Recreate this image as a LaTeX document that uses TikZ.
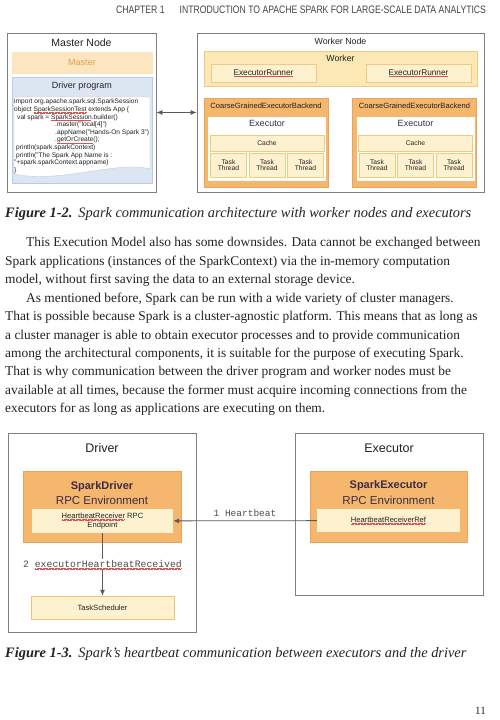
\documentclass[tikz,border=0pt]{standalone}
\usepackage{fontspec}
\setmainfont{Liberation Serif}
\setsansfont{Liberation Sans}
\setmonofont{Liberation Mono}
\newfontfamily\headfont[FakeStretch=0.8]{Liberation Sans}
\usepackage{xcolor}
\usepackage{tikz}
\usetikzlibrary{arrows.meta,positioning,calc}

\definecolor{frame}{HTML}{808080}
\definecolor{orfill}{HTML}{F5B66E}
\definecolor{ordraw}{HTML}{EBA457}
\definecolor{palefill}{HTML}{FEF1D0}
\definecolor{paledraw}{HTML}{EDCB80}
\definecolor{workfill}{HTML}{FCE8B4}
\definecolor{masterfill}{HTML}{FCE6C0}
\definecolor{mastertxt}{HTML}{E89E48}
\definecolor{blfill}{HTML}{DCE6F2}
\definecolor{bldraw}{HTML}{B9CDE5}
\definecolor{ink}{HTML}{222222}
\definecolor{deep}{HTML}{3D2B45}
\definecolor{squigred}{HTML}{E05050}

% red spell-check squiggle under a word
\newsavebox\sqbox
\newcommand\squig[1]{\sbox\sqbox{#1}\rlap{\hbox to \wd\sqbox{\leaders\hbox{\textcolor{squigred}{\rule[-1.6pt]{0.6pt}{0.3pt}\rule[-1.1pt]{0.6pt}{0.3pt}}}\hfill}}\usebox\sqbox}
\newcommand\fs[1]{\fontsize{#1}{#1}\selectfont}

\begin{document}
\begin{tikzpicture}[x=1pt,y=-1pt,
  outer/.style={rectangle,draw=frame,line width=0.8pt,fill=white,inner sep=0pt},
  orbox/.style={rectangle,draw=ordraw,fill=orfill,inner sep=0pt},
  palebox/.style={rectangle,draw=paledraw,fill=palefill,inner sep=0pt,align=center,text=ink},
  title/.style={font=\sffamily\fs{10.5},text=ink,inner sep=0pt},
  small/.style={font=\sffamily\fs{6.7},text=ink},
  bodyline/.style={anchor=base west,inner sep=0pt,font=\fs{13.4},text=ink},
  caption/.style={anchor=base west,inner sep=0pt,font=\fs{14.4},text=ink},
  arr/.style={-{Latex[length=6pt,width=5pt]},draw=black!65,line width=0.8pt}
]
\useasboundingbox (0,0) rectangle (499,720);

\node[anchor=base west,inner sep=0pt,font=\headfont\fs{10.8},text=ink!85] (chap) at (116,13)
  {CHAPTER 1\hspace{15pt}INTRODUCTION TO APACHE SPARK FOR LARGE-SCALE DATA ANALYTICS};

% Figure 1-2: master node
\node[outer,minimum width=149pt,minimum height=159pt] (mnode) at (81.5,112.5) {};
\node[title] (mtitle) at (81.5,43) {Master Node};
\node[rectangle,draw=masterfill!80!orange!60,fill=masterfill,minimum width=140pt,minimum height=21pt,
  font=\sffamily\fs{9},text=mastertxt] (mbar) at (82,62.5) {Master};
\node[rectangle,draw=bldraw,fill=blfill,minimum width=140pt,minimum height=106pt] (dprog) at (82,130) {};
\node[font=\sffamily\fs{9},text=ink] (dtitle) at (82,86.5) {Driver program};
\filldraw[draw=bldraw,fill=white] (14,97) -- (150,97) -- (150,169)
  .. controls (118,160) and (60,184) .. (14,174) -- cycle;
\node[anchor=north west,inner sep=0pt,align=left,font=\sffamily\fs{6.6},text=ink,
  execute at begin node=\setlength{\baselineskip}{7.6pt}] (code) at (14,99)
  {import org.apache.spark.sql.SparkSession\\
   object \squig{SparkSessionTest} extends App \{\\
   \hspace*{3pt}val spark = \squig{SparkSession}.builder()\\
   \hspace*{41pt}.master("local[4]")\\
   \hspace*{41pt}.appName("Hands-On Spark 3")\\
   \hspace*{41pt}.\squig{getOrCreate}();\\
   \hspace*{2pt}println(spark.sparkContext)\\
   \hspace*{2pt}println("The Spark App Name is :\\
   "+spark.sparkContext.appname)\\
   \}};

% Figure 1-2: worker node
\node[outer,minimum width=287pt,minimum height=159pt] (wnode) at (340.5,112.5) {};
\node[title,font=\sffamily\fs{8.8}] (wtitle) at (340.5,41) {Worker Node};
\node[rectangle,draw=paledraw,fill=workfill,minimum width=273pt,minimum height=35pt] (wbar) at (340.5,68.5) {};
\node[title,font=\sffamily\fs{8.8}] (wlabel) at (340.5,58) {Worker};
\node[palebox,minimum width=105pt,minimum height=18pt,font=\sffamily\fs{8.3}] (erun1) at (263.5,73) {\squig{ExecutorRunner}};
\node[palebox,minimum width=105pt,minimum height=18pt,font=\sffamily\fs{8.3}] (erun2) at (418.5,73) {\squig{ExecutorRunner}};

\node[orbox,minimum width=124pt,minimum height=89pt] (cgeb1) at (266,142.5) {};
\node[small,font=\sffamily\fs{7.6}] (cglabel1) at (266,106) {CoarseGrainedExecutorBackend};
\node[rectangle,fill=white,minimum width=118pt,minimum height=64pt,inner sep=0pt] (exec1) at (267,148.5) {};
\node[font=\sffamily\fs{9},text=deep] (exlabel1) at (267,123) {Executor};
\node[palebox,minimum width=114pt,minimum height=16pt,small] (cache1) at (267,143) {Cache};
\node[palebox,minimum width=36pt,minimum height=24pt,small] (task11) at (228.5,165) {Task\\Thread};
\node[palebox,minimum width=36pt,minimum height=24pt,small] (task12) at (267,165) {Task\\Thread};
\node[palebox,minimum width=36pt,minimum height=24pt,small] (task13) at (305.5,165) {Task\\Thread};

\node[orbox,minimum width=124pt,minimum height=89pt] (cgeb2) at (414.5,142.5) {};
\node[small,font=\sffamily\fs{7.6}] (cglabel2) at (414.5,106) {CoarseGrainedExecutorBackend};
\node[rectangle,fill=white,minimum width=118pt,minimum height=64pt,inner sep=0pt] (exec2) at (415.5,148.5) {};
\node[font=\sffamily\fs{9},text=deep] (exlabel2) at (415.5,123) {Executor};
\node[palebox,minimum width=114pt,minimum height=16pt,small] (cache2) at (415.5,143) {Cache};
\node[palebox,minimum width=36pt,minimum height=24pt,small] (task21) at (377,165) {Task\\Thread};
\node[palebox,minimum width=36pt,minimum height=24pt,small] (task22) at (415.5,165) {Task\\Thread};
\node[palebox,minimum width=36pt,minimum height=24pt,small] (task23) at (454,165) {Task\\Thread};

\draw[arr,{Latex[length=6pt,width=5pt]}-{Latex[length=6pt,width=5pt]}] (mnode) -- (wnode);

\node[caption] (cap2) at (5,217.5)
  {\textbf{\textit{Figure 1-2.}}\hspace{6pt}\textit{Spark communication architecture with worker nodes and executors}};

% body text
\node[bodyline] (l1) at (26,246.7) {This Execution Model also has some downsides. Data cannot be exchanged between};
\node[bodyline] (l2) at (5,265.2) {Spark applications (instances of the SparkContext) via the in-memory computation};
\node[bodyline] (l3) at (5,283.6) {model, without first saving the data to an external storage device.};
\node[bodyline] (l4) at (26,302.1) {As mentioned before, Spark can be run with a wide variety of cluster managers.};
\node[bodyline] (l5) at (5,320.5) {That is possible because Spark is a cluster-agnostic platform. This means that as long as};
\node[bodyline] (l6) at (5,339) {a cluster manager is able to obtain executor processes and to provide communication};
\node[bodyline] (l7) at (5,357.4) {among the architectural components, it is suitable for the purpose of executing Spark.};
\node[bodyline] (l8) at (5,375.9) {That is why communication between the driver program and worker nodes must be};
\node[bodyline] (l9) at (5,394.3) {available at all times, because the former must acquire incoming connections from the};
\node[bodyline] (l10) at (5,412.8) {executors for as long as applications are executing on them.};

% Figure 1-3: driver
\node[outer,minimum width=188pt,minimum height=199pt] (drv) at (102,532.5) {};
\node[title,font=\sffamily\fs{12.5}] (drvtitle) at (102,448) {Driver};
\node[orbox,minimum width=158pt,minimum height=71pt] (drvrpc) at (102,506.5) {};
\node[font=\sffamily\bfseries\fs{11},text=deep,inner sep=0pt] (drvname) at (102,487) {SparkDriver};
\node[font=\sffamily\fs{11.5},text=deep,inner sep=0pt] (drvenv) at (102,500) {RPC Environment};
\node[palebox,draw=none,minimum width=141pt,minimum height=24pt,font=\sffamily\fs{7.6},
  execute at begin node=\setlength{\baselineskip}{9.5pt}] (hbrecv) at (102.5,521)
  {\squig{HeartbeatReceiver} RPC\\Endpoint};
\node[palebox,draw=paledraw!90!orange,minimum width=143pt,minimum height=23pt,font=\sffamily\fs{7.6}] (tsched) at (102.5,607.5) {TaskScheduler};

% Figure 1-3: executor
\node[outer,minimum width=188pt,minimum height=162pt] (exe) at (389,514) {};
\node[title,font=\sffamily\fs{12.5}] (exetitle) at (389,448) {Executor};
\node[orbox,minimum width=157pt,minimum height=71pt] (exerpc) at (388.5,506.5) {};
\node[font=\sffamily\bfseries\fs{11},text=deep,inner sep=0pt] (exename) at (388.5,486) {SparkExecutor};
\node[font=\sffamily\fs{11.5},text=deep,inner sep=0pt] (exeenv) at (388.5,500) {RPC Environment};
\node[palebox,draw=none,minimum width=143pt,minimum height=23pt,font=\sffamily\fs{7.6}] (hbref) at (388.5,520.5) {\squig{HeartbeatReceiverRef}};

\draw[arr] (hbref) -- (hbrecv) node[midway,above=4pt,font=\ttfamily\fs{9.5},text=black!70,inner sep=0pt] (hblabel) {1 Heartbeat};
\draw[arr] (hbrecv) -- (tsched) node[midway,fill=white,font=\ttfamily\fs{9.8},text=black!70,inner sep=1pt] (exlabel) {2 \squig{executorHeartbeatReceived}};

\node[caption] (cap3) at (5,657.5)
  {\textbf{\textit{Figure 1-3.}}\hspace{6pt}\textit{Spark’s heartbeat communication between executors and the driver}};
\node[anchor=base east,inner sep=0pt,font=\fs{11},text=ink] (pagenum) at (486,714) {11};
\end{tikzpicture}
\end{document}
